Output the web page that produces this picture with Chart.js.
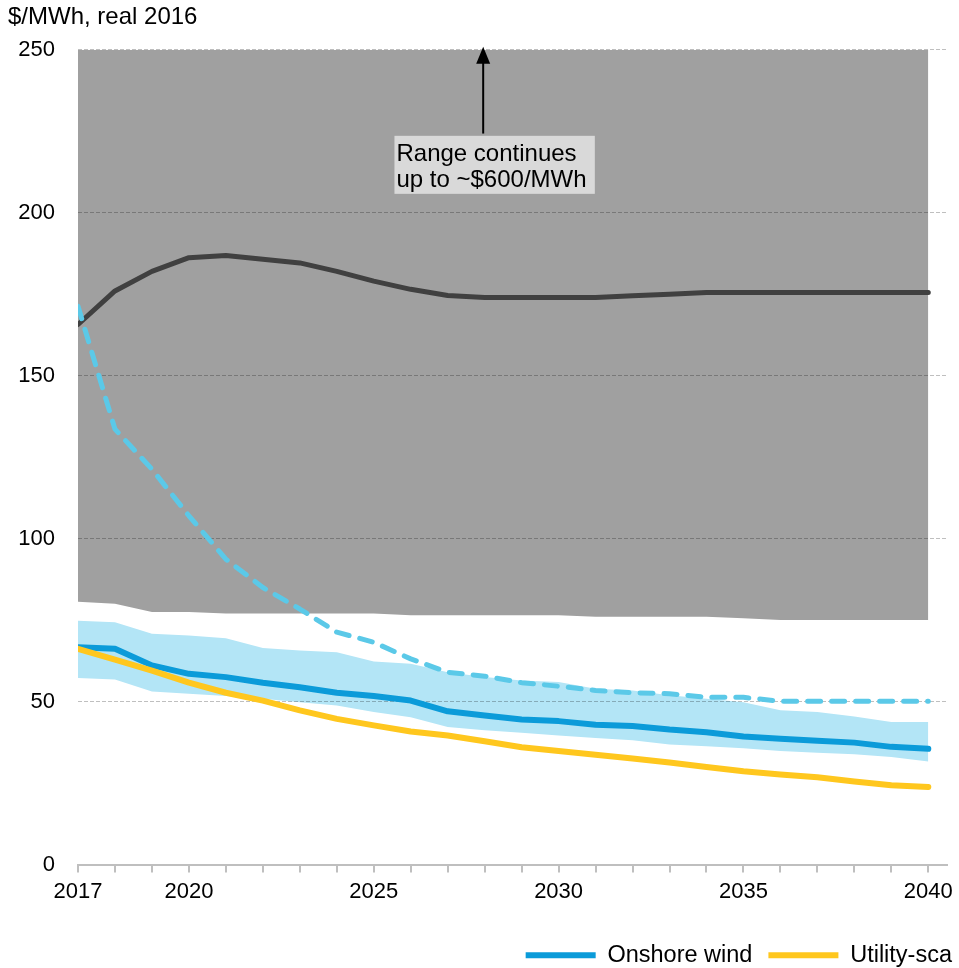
<!DOCTYPE html>
<html>
<head>
<meta charset="utf-8">
<script src="https://cdn.jsdelivr.net/npm/chart.js@4/dist/chart.umd.min.js"></script>
<style>
  html, body { margin: 0; padding: 0; background: #fff; }
  #wrap { width: 959px; height: 968px; }
</style>
</head>
<body>
<div id="wrap"><canvas id="lcoeChart"></canvas></div>
<script>
const years = [2017, 2018, 2019, 2020, 2021, 2022, 2023, 2024, 2025, 2026, 2027, 2028,
  2029, 2030, 2031, 2032, 2033, 2034, 2035, 2036, 2037, 2038, 2039, 2040];
const yearLabels = [2017, 2020, 2025, 2030, 2035, 2040];

const onshoreWind = [66.7, 66.2, 61.1, 58.5, 57.5, 55.8, 54.4, 52.7, 51.7, 50.3, 47, 45.7,
  44.5, 44, 42.9, 42.5, 41.4, 40.6, 39.3, 38.6, 38, 37.4, 36.1, 35.5];
const utilityScale = [66.2, 62.9, 59.5, 55.8, 52.7, 50.3, 47.3, 44.7, 42.7, 40.8, 39.6, 37.8,
  36, 34.8, 33.7, 32.5, 31.3, 29.9, 28.6, 27.6, 26.8, 25.5, 24.3, 23.8];
const windHigh = [74.8, 74.3, 70.8, 70.3, 69.4, 66.4, 65.7, 65.1, 62.3, 61.6, 59, 57.5,
  56.5, 56, 53.9, 53.4, 51.9, 50.9, 49.8, 47.3, 46.8, 45.4, 43.7, 43.7];
const windLow = [57.2, 56.8, 53.1, 52.4, 51.7, 50.9, 49.8, 48.8, 46.8, 45.2, 42.2, 41.2,
  40.4, 39.6, 38.8, 38.1, 36.8, 36.3, 35.7, 34.8, 34.3, 33.8, 33, 31.6];
const dashedLine = [171.3, 133.6, 121.3, 107, 93.7, 85, 78.4, 71.3, 68.2, 63.1, 59, 57.8,
  55.8, 54.7, 53.4, 52.7, 52.4, 51.3, 51.3, 50.1, 50.1, 50.1, 50.1, 50.1];
const darkLine = [165.7, 176, 182, 186.2, 186.9, 185.7, 184.6, 182, 179, 176.5, 174.6, 174,
  174, 174, 174, 174.5, 175, 175.5, 175.5, 175.5, 175.5, 175.5, 175.5, 175.5];
const rangeLow = [80.6, 80, 77.5, 77.5, 77, 77, 77, 77, 77, 76.5, 76.5, 76.5,
  76.5, 76.5, 76, 76, 76, 76, 75.6, 75, 75, 75, 75, 75];
const rangeTop = years.map(() => 250);

const legendNames = ['Onshore wind', 'Utility-sca'];
const font = 'Liberation Sans, Arial, sans-serif';

// note box + arrow, placed in data units
const noteBox = { x0: 2025.56, x1: 2030.98, y0: 223.6, y1: 205.8 };
const arrow = { x: 2027.96, y0: 224.3, y1: 250 };

const notePlugin = {
  id: 'note',
  afterLayout(chart) {
    // legend sits flush with the right edge in the original
    chart.legend.left += 20;
    chart.legend.right += 20;
  },
  afterDraw(chart) {
    const ctx = chart.ctx;
    const xs = chart.scales.x, ys = chart.scales.y;
    const bx0 = xs.getPixelForValue(noteBox.x0), bx1 = xs.getPixelForValue(noteBox.x1);
    const by0 = ys.getPixelForValue(noteBox.y0), by1 = ys.getPixelForValue(noteBox.y1);
    ctx.save();
    ctx.fillStyle = '#D9D9D9';
    ctx.fillRect(bx0, by0, bx1 - bx0, by1 - by0);
    ctx.fillStyle = '#000';
    ctx.font = '24px ' + font;
    ctx.textBaseline = 'alphabetic';
    ctx.fillText('Range continues', bx0 + 2, by0 + 25);
    ctx.fillText('up to ~$600/MWh', bx0 + 2, by0 + 51);
    const ax = xs.getPixelForValue(arrow.x);
    const ay0 = ys.getPixelForValue(arrow.y0), ay1 = ys.getPixelForValue(arrow.y1);
    ctx.strokeStyle = '#000';
    ctx.lineWidth = 2;
    ctx.beginPath();
    ctx.moveTo(ax, ay0);
    ctx.lineTo(ax, ay1 + 12);
    ctx.stroke();
    ctx.beginPath();
    ctx.moveTo(ax, ay1 - 3);
    ctx.lineTo(ax - 7, ay1 + 14);
    ctx.lineTo(ax + 7, ay1 + 14);
    ctx.closePath();
    ctx.fill();
    ctx.restore();
  }
};

function lineSet(label, data, color, width, dash) {
  return {
    label: label,
    data: data,
    borderColor: color,
    backgroundColor: color,
    borderWidth: width,
    borderDash: dash || [],
    borderCapStyle: 'round',
    borderJoinStyle: 'round',
    pointRadius: 0,
    tension: 0,
    fill: false
  };
}

new Chart(document.getElementById('lcoeChart'), {
  type: 'line',
  data: {
    labels: years,
    datasets: [
      lineSet('Utility-sca', utilityScale, '#FFC71E', 6),
      lineSet('Onshore wind', onshoreWind, '#0B9BD9', 6),
      lineSet('dashed', dashedLine, '#5BC9E8', 5, [13, 11]),
      lineSet('dark', darkLine, '#404040', 5),
      { label: 'windHigh', data: windHigh, borderWidth: 0, pointRadius: 0, fill: '+1', backgroundColor: '#B3E5F6' },
      { label: 'windLow', data: windLow, borderWidth: 0, pointRadius: 0, fill: false },
      { label: 'rangeLow', data: rangeLow, borderWidth: 0, pointRadius: 0, fill: '+1', backgroundColor: '#A0A0A0' },
      { label: 'rangeTop', data: rangeTop, borderWidth: 0, pointRadius: 0, fill: false }
    ]
  },
  options: {
    responsive: true,
    maintainAspectRatio: false,
    animation: false,
    events: [],
    layout: { padding: { left: 8, right: 11, top: 0, bottom: -9 } },
    scales: {
      x: {
        type: 'linear',
        min: 2017,
        max: 2040.5,
        grid: { drawOnChartArea: false, drawTicks: true, tickLength: 8, color: '#BFBFBF', lineWidth: 2 },
        border: { display: true, color: '#BFBFBF', width: 2 },
        ticks: {
          stepSize: 1,
          autoSkip: false,
          maxRotation: 0,
          includeBounds: false,
          padding: 6,
          color: '#000',
          font: { family: font, size: 22 },
          callback: v => yearLabels.includes(v) ? String(v) : ''
        },
        afterFit: s => { s.height = 63; }
      },
      y: {
        min: 0,
        max: 250,
        grid: {
          drawTicks: false,
          lineWidth: 1,
          color: c => c.tick && c.tick.value === 0 ? 'rgba(0,0,0,0)' : 'rgba(0,0,0,0.25)'
        },
        border: { display: false, dash: [4, 2] },
        ticks: {
          stepSize: 50,
          padding: 23,
          color: '#000',
          font: { family: font, size: 22 }
        },
        afterFit: s => { s.width = 70; }
      }
    },
    plugins: {
      filler: { drawTime: 'beforeDraw' },
      tooltip: { enabled: false },
      title: {
        display: true,
        text: '$/MWh, real 2016',
        align: 'start',
        color: '#000',
        font: { family: font, size: 24, weight: 'normal' },
        padding: { top: 3, bottom: 18 }
      },
      legend: {
        position: 'bottom',
        align: 'end',
        labels: {
          usePointStyle: true,
          pointStyle: 'line',
          pointStyleWidth: 70,
          boxHeight: 22,
          padding: 16,
          color: '#000',
          font: { family: font, size: 23.5 },
          filter: item => legendNames.includes(item.text),
          sort: (a, b) => legendNames.indexOf(a.text) - legendNames.indexOf(b.text)
        }
      }
    }
  },
  plugins: [notePlugin]
});
</script>
</body>
</html>
